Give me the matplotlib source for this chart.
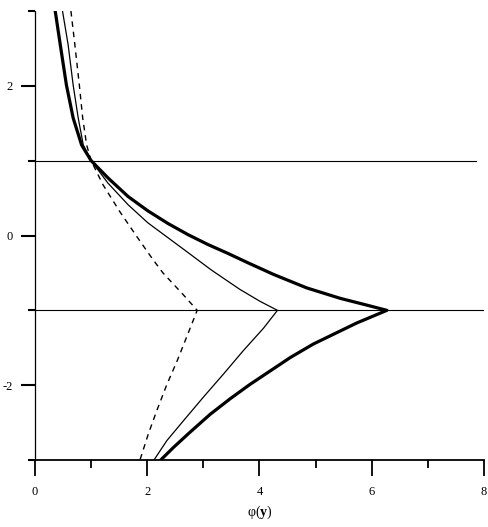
import matplotlib
matplotlib.use('Agg')
import matplotlib.pyplot as plt
from matplotlib.ticker import MultipleLocator

plt.rcParams['font.family'] = ['Liberation Serif', 'DejaVu Serif']
plt.rcParams['mathtext.fontset'] = 'custom'
plt.rcParams['mathtext.rm'] = 'Liberation Serif'
plt.rcParams['mathtext.bf'] = 'Liberation Serif:bold'
plt.rcParams['mathtext.it'] = 'Liberation Serif:italic'
plt.rcParams['axes.unicode_minus'] = False

# curves, going from y=3 down to y=-3
thick_x = [0.36, 0.45, 0.56, 0.68, 0.83, 1.0, 1.30, 1.66, 2.01, 2.37, 2.73, 3.08,
           3.44, 3.78, 4.25, 4.84, 5.44, 5.91, 6.27, 5.73, 4.96, 4.55, 4.19, 3.83,
           3.48, 3.12, 2.76, 2.47, 2.24]
thick_y = [3.0, 2.55, 2.01, 1.57, 1.21, 1.0, 0.77, 0.52, 0.33, 0.16, 0.01, -0.12,
           -0.24, -0.36, -0.52, -0.70, -0.84, -0.93, -1.0, -1.17, -1.45, -1.63, -1.81, -1.99,
           -2.18, -2.39, -2.63, -2.83, -3.0]

thin_x = [0.49, 0.59, 0.68, 0.77, 0.86, 1.0, 1.30, 1.66, 2.01, 2.37, 2.73, 3.14,
          3.65, 4.01, 4.32, 4.07, 3.71, 3.36, 3.0, 2.64, 2.35, 2.12]
thin_y = [3.0, 2.55, 2.01, 1.57, 1.21, 1.0, 0.70, 0.41, 0.17, -0.03, -0.23, -0.46,
          -0.72, -0.88, -1.0, -1.24, -1.54, -1.85, -2.16, -2.48, -2.74, -3.0]

dash_x = [0.64, 0.71, 0.79, 0.85, 0.92, 1.0, 1.21, 1.51, 1.81, 2.10, 2.28, 2.64,
          2.89, 2.70, 2.53, 2.35, 2.17, 2.02, 1.87]
dash_y = [3.0, 2.55, 2.01, 1.57, 1.21, 1.0, 0.68, 0.32, -0.01, -0.32, -0.50, -0.79,
          -1.0, -1.36, -1.68, -1.99, -2.34, -2.65, -3.0]

levels = [1, -1]
level_ends = [7.86, 8.0]

fig = plt.figure(figsize=(4.89, 5.27), dpi=100)
ax = fig.add_axes([35 / 489, 1 - 460 / 527, 449 / 489, 449 / 527])

for lv, xe in zip(levels, level_ends):
    ax.plot([0, xe], [lv, lv], color='black', lw=0.8)

ax.plot(thick_x, thick_y, color='black', lw=2.3, solid_joinstyle='round')
ax.plot(thin_x, thin_y, color='black', lw=0.9, solid_joinstyle='round')
ax.plot(dash_x, dash_y, color='black', lw=1.0, dashes=(4, 3.5))

ax.set_xlim(0, 8)
ax.set_ylim(-3, 3)
ax.spines['top'].set_visible(False)
ax.spines['right'].set_visible(False)
ax.spines['left'].set_linewidth(0.9)
ax.spines['bottom'].set_linewidth(1.3)

ax.xaxis.set_major_locator(MultipleLocator(2))
ax.xaxis.set_minor_locator(MultipleLocator(1))
ax.yaxis.set_major_locator(MultipleLocator(2))
ax.yaxis.set_minor_locator(MultipleLocator(1))
ax.tick_params(axis='x', which='major', direction='out', length=11.5, width=1.3,
               pad=7, labelsize=9)
ax.tick_params(axis='x', which='minor', direction='out', length=6, width=1.3)
ax.tick_params(axis='y', which='major', direction='out', length=10, width=1.5,
               pad=6, labelsize=9)
ax.tick_params(axis='y', which='minor', direction='out', length=5, width=1.5)

ax.set_xlabel(r'$\mathrm{φ(}\mathbf{y}\mathrm{)}$', fontsize=10, labelpad=4)

fig.savefig('out.png', dpi=100)
